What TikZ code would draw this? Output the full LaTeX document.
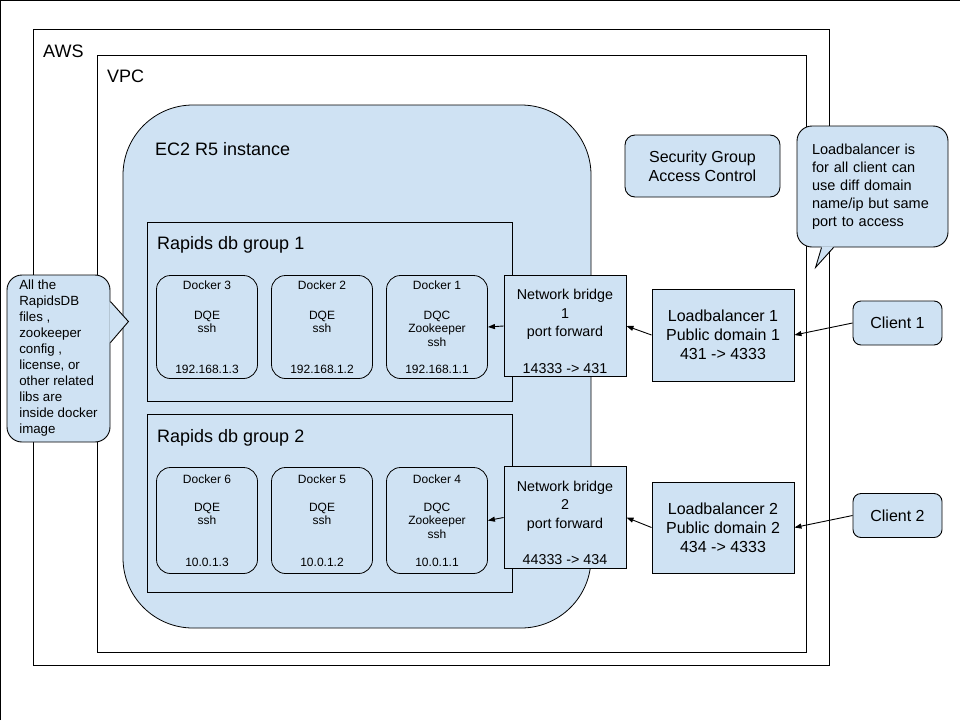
\documentclass[tikz,border=0pt]{standalone}
\usepackage{fontspec}
\setmainfont{Liberation Sans}
\usetikzlibrary{arrows.meta}
\definecolor{paleblue}{HTML}{CFE2F3}
\tikzstyle{container} = [rectangle, draw=black, line width=1pt, inner sep=0pt]
\tikzstyle{title} = [anchor=base west, inner sep=0pt, font=\fontsize{18}{21}\selectfont]
\tikzstyle{docker} = [rectangle, rounded corners=14pt, draw=black, fill=paleblue, line width=0.8pt, minimum width=101pt, minimum height=103pt, align=center, font=\fontsize{12}{13.5}\selectfont]
\tikzstyle{bridge} = [rectangle, draw=black, fill=paleblue, line width=0.9pt, minimum width=122pt, minimum height=100pt, align=center, font=\fontsize{14.3}{18.3}\selectfont]
\tikzstyle{balancer} = [rectangle, draw=black, fill=paleblue, line width=0.9pt, minimum width=142pt, minimum height=92pt, align=center, font=\fontsize{16}{19}\selectfont]
\tikzstyle{client} = [rectangle, rounded corners=8pt, draw=black, fill=paleblue, line width=0.9pt, minimum width=89pt, minimum height=44pt, font=\fontsize{16}{19}\selectfont]
\tikzstyle{note} = [rectangle, rounded corners=15pt, draw=black, fill=paleblue, line width=0.9pt, align=left]
\tikzstyle{arrow} = [line width=0.9pt, -{Triangle[length=7pt,width=5pt]}]

\begin{document}
\begin{tikzpicture}[x=1pt, y=-1pt, node distance=115pt]
\useasboundingbox (0,0) rectangle (960,720);
\draw [line width=1pt] (0.5,720) -- (0.5,0.5) -- (960,0.5);

%%% frames %%%%%%%%%%%%%%%%%%%%%%%%
\node (aws) [container, minimum width=796pt, minimum height=636pt] at (431,347) {};
\node (awstitle) [title] at (43,57) {AWS};
\node (vpc) [container, minimum width=709pt, minimum height=597pt] at (451.5,353.5) {};
\node (vpctitle) [title] at (107,82) {VPC};
\node (ec2) [container, rounded corners=70pt, fill=paleblue, line width=0.8pt, minimum width=468pt, minimum height=523pt] at (357,366.5) {};
\node (ec2title) [title] at (155,155) {EC2 R5 instance};
\node (group1) [container, minimum width=365pt, minimum height=179pt] at (329.5,311.5) {};
\node (group1title) [title] at (157,249) {Rapids db group 1};
\node (group2) [container, minimum width=365pt, minimum height=178pt] at (329.5,503) {};
\node (group2title) [title] at (157,442) {Rapids db group 2};

%%% dockers %%%%%%%%%%%%%%%%%%%%%%%
\node (docker1) [docker] at (437,327) {Docker 1\\[16.5pt]DQC\\Zookeeper\\ssh\\[13.5pt]192.168.1.1};
\node (docker2) [docker, left of=docker1] {Docker 2\\[16.5pt]DQE\\ssh\\[27pt]192.168.1.2};
\node (docker3) [docker, left of=docker2] {Docker 3\\[16.5pt]DQE\\ssh\\[27pt]192.168.1.3};
\node (docker4) [docker, minimum height=106pt] at (437,520.5) {Docker 4\\[14.5pt]DQC\\Zookeeper\\ssh\\[14.5pt]10.0.1.1};
\node (docker5) [docker, minimum height=106pt, left of=docker4] {Docker 5\\[14.5pt]DQE\\ssh\\[28pt]10.0.1.2};
\node (docker6) [docker, minimum height=106pt, left of=docker5] {Docker 6\\[14.5pt]DQE\\ssh\\[28pt]10.0.1.3};

%%% network %%%%%%%%%%%%%%%%%%%%%%%
\node (bridge1) [bridge] at (565,326) {~\\[3pt]Network bridge\\1\\port forward\\[18.3pt]14333 -> 431};
\node (bridge2) [bridge, minimum height=99pt] at (565,517.5) {~\\[3pt]Network bridge\\2\\port forward\\[18.3pt]44333 -> 434};
\node (lb1) [balancer] at (723,335) {Loadbalancer 1\\Public domain 1\\431 -> 4333};
\node (lb2) [balancer, minimum height=91pt] at (723,527.5) {Loadbalancer 2\\Public domain 2\\434 -> 4333};
\node (client1) [client] at (897.5,323) {Client 1};
\node (client2) [client] at (897.5,515.5) {Client 2};
\node (security) [client, align=center, rounded corners=10pt, minimum width=155pt, minimum height=62pt] at (702.5,166) {Security Group\\Access Control};

%%% drawing %%%%%%%%%%%%%%%%%%%%%%%
\draw [arrow] (client1.west) -- (lb1.east);
\draw [arrow] (lb1.west) -- (bridge1.east);
\draw [arrow] (bridge1.west) -- (docker1.east);
\draw [arrow] (client2.west) -- (lb2.east);
\draw [arrow] (lb2.west) -- (bridge2.east);
\draw [arrow] (bridge2.west) -- (docker4.east);

%%% notes %%%%%%%%%%%%%%%%%%%%%%%%%
\node (dbnote) [note, minimum width=103pt, minimum height=167pt, font=\fontsize{13.3}{16}\selectfont] at (58.5,358.5) {All the\\RapidsDB\\files ,\\zookeeper\\config ,\\license, or\\other related\\libs are\\inside docker\\image};
\fill [paleblue] ([xshift=-1pt,yshift=-27pt]dbnote.north east) -- ([xshift=18pt,yshift=-47pt]dbnote.north east) -- ([xshift=-1pt,yshift=-68pt]dbnote.north east) -- cycle;
\draw [line width=0.9pt] ([yshift=-27pt]dbnote.north east) -- ([xshift=18pt,yshift=-47pt]dbnote.north east) -- ([yshift=-68pt]dbnote.north east);
\node (lbnote) [note, text width=121pt, inner xsep=15pt, minimum height=121pt, font=\fontsize{14.5}{18}\selectfont] at (872.5,186.5) {Loadbalancer is\\for all client can\\use diff domain\\name/ip but same\\port to access};
\fill [paleblue] ([xshift=25pt,yshift=1pt]lbnote.south west) -- ([xshift=19pt,yshift=-20pt]lbnote.south west) -- ([xshift=37pt,yshift=1pt]lbnote.south west) -- cycle;
\draw [line width=0.9pt] ([xshift=25pt]lbnote.south west) -- ([xshift=19pt,yshift=-20pt]lbnote.south west) -- ([xshift=37pt]lbnote.south west);
\end{tikzpicture}
\end{document}
